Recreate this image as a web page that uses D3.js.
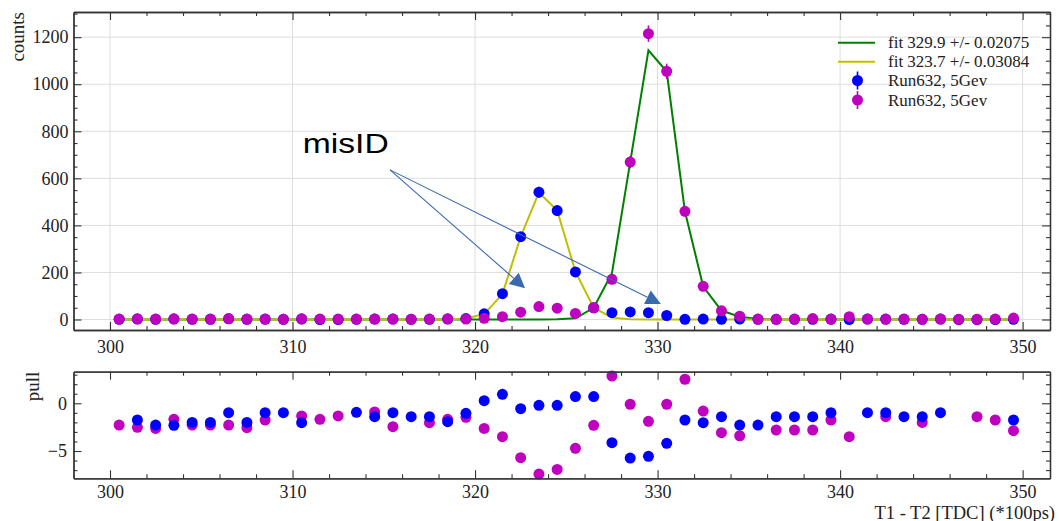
<!DOCTYPE html>
<html>
<head>
<meta charset="utf-8">
<script src="https://cdn.jsdelivr.net/npm/d3@7"></script>
<style>
    body { margin: 0; background: #fff; }
</style>
</head>
<body>
<div id="chart"></div>
<script>
// bin centres of the TDC difference histogram
const binCenters = [
    300.5, 301.5, 302.5, 303.5, 304.5, 305.5, 306.5, 307.5, 308.5, 309.5,
    310.5, 311.5, 312.5, 313.5, 314.5, 315.5, 316.5, 317.5, 318.5, 319.5,
    320.5, 321.5, 322.5, 323.5, 324.5, 325.5, 326.5, 327.5, 328.5, 329.5,
    330.5, 331.5, 332.5, 333.5, 334.5, 335.5, 336.5, 337.5, 338.5, 339.5,
    340.5, 341.5, 342.5, 343.5, 344.5, 345.5, 346.5, 347.5, 348.5, 349.5
];
const blueCounts = [
    1, 2, 1, 2, 1, 1, 3, 1, 2, 1,
    2, 0, 0, 1, 2, 2, 1, 1, 2, 4,
    24, 110, 352, 541, 463, 202, 50, 29, 32, 29,
    17, 1, 2, 1, 2, 1, 1, 1, 1, 2,
    0, 2, 2, 1, 1, 2, 0, 0, 0, 1
];
const magentaCounts = [
    2, 3, 2, 3, 2, 2, 4, 2, 1, 1,
    3, 2, 2, 2, 2, 2, 1, 2, 3, 2,
    5, 12, 31, 55, 48, 26, 50, 171, 669, 1215,
    1055, 460, 141, 37, 14, 2, 1, 2, 4, 1,
    12, 2, 1, 2, 1, 2, 1, 1, 2, 6
];
const greenFit = [
    0, 0, 0, 0, 0, 0, 0, 0, 0, 0,
    0, 0, 0, 0, 0, 0, 0, 0, 0, 0,
    0, 0, 0, 0, 1, 5, 50, 197, 669, 1144,
    1054, 459, 140, 38, 12, 2, 0, 0, 0, 0,
    0, 0, 0, 0, 0, 0, 0, 0, 0, 0
];
const yellowFit = [
    0, 0, 0, 0, 0, 0, 0, 0, 0, 0,
    0, 0, 0, 0, 0, 0, 0, 0, 0, 4,
    23, 108, 352, 540, 463, 203, 50, 8, 1, 0,
    0, 0, 0, 0, 0, 0, 0, 0, 0, 0,
    0, 0, 0, 0, 0, 0, 0, 0, 0, 0
];
const bluePull = [
    null, -1.75, -2.28, -2.31, -2.0, -2.0, -0.98, -2.0, -0.98, -0.98,
    -2.03, null, null, -0.95, -1.4, -0.98, -1.4, -1.4, -1.93, -1.05,
    0.27, 0.94, -0.56, -0.21, -0.21, 0.7, 0.7, -4.13, -5.74, -5.56,
    -4.2, -1.75, -2.03, -1.4, -2.28, -2.28, -1.4, -1.4, -1.4, -0.98,
    null, -0.98, -0.98, -1.4, -1.4, -0.98, null, null, null, -1.75
];
const magentaPull = [
    -2.28, -2.52, -2.63, -1.68, -2.28, -2.28, -2.28, -2.56, -1.75, null,
    -1.33, -1.68, -1.33, null, -0.9, -2.45, null, -2.03, -1.68, -1.47,
    -2.63, -3.5, -5.7, -7.42, -6.93, -4.72, -2.31, 2.86, -0.1, -1.89,
    -0.1, 2.52, -0.81, -3.08, -3.4, null, -2.8, -2.8, -2.8, -1.75,
    -3.5, null, -1.4, null, -2.0, null, null, -1.4, -1.75, -2.87
];
const xMajorTicks = [300, 310, 320, 330, 340, 350];
const xMinorTicks = [302, 304, 306, 308, 312, 314, 316, 318, 322, 324, 326, 328, 332, 334, 336, 338, 342, 344, 346, 348];
const countTicks = [0, 200, 400, 600, 800, 1000, 1200];
const pullTicks = [-5, 0];
const legendLabels = ['fit 329.9 +/- 0.02075', 'fit 323.7 +/- 0.03084', 'Run632, 5Gev', 'Run632, 5Gev'];

const chartRenderer = (() => {

    const W = 1059, H = 521;
    const SERIF = '"Liberation Serif", "Times New Roman", serif';
    const C = {
        blue: '#0000ff', magenta: '#bf00bf', green: '#008000', yellow: '#bfbf00',
        frame: '#333333', grid: '#dedede', text: '#222222', arrow: '#3a6aad'
    };
    const TOP = { left: 73.5, right: 1050, top: 12, bottom: 330 };
    const BOT = { left: 73.5, right: 1050, top: 371.7, bottom: 478.3 };

    const x = d3.scaleLinear().domain([298, 351.5]).range([TOP.left, TOP.right]);
    const yCounts = d3.scaleLinear().domain([-44.6, 1307]).range([TOP.bottom, TOP.top]);
    const yPull = d3.scaleLinear().domain([-7.86, 3.31]).range([BOT.bottom, BOT.top]);
    const fmt = d3.format('d');

    function _styleAxis(sel) {
        sel.selectAll('.domain').attr('stroke', C.frame).attr('stroke-width', 1.3);
        sel.selectAll('.tick line').attr('stroke', C.frame).attr('stroke-width', 1.1);
        sel.selectAll('.tick text')
            .style('font-family', SERIF).style('font-size', '18px').attr('fill', C.text);
    }

    function _drawFrame(svg, box, ys, yMajor, yMinor, xPad, yPad) {
        const add = (axis, tx, ty) => svg.append('g')
            .attr('transform', `translate(${tx},${ty})`)
            .call(axis).call(_styleAxis);

        add(d3.axisBottom(x).tickValues(xMajorTicks).tickFormat(fmt).tickSizeInner(-8).tickSizeOuter(0).tickPadding(xPad), 0, box.bottom);
        add(d3.axisBottom(x).tickValues(xMinorTicks).tickSizeInner(-4).tickSizeOuter(0).tickFormat(''), 0, box.bottom);
        add(d3.axisTop(x).tickValues(xMajorTicks).tickSizeInner(-8).tickSizeOuter(0).tickFormat(''), 0, box.top);
        add(d3.axisTop(x).tickValues(xMinorTicks).tickSizeInner(-4).tickSizeOuter(0).tickFormat(''), 0, box.top);
        add(d3.axisLeft(ys).tickValues(yMajor).tickFormat(fmt).tickSizeInner(-8).tickSizeOuter(0).tickPadding(yPad), box.left, 0);
        add(d3.axisLeft(ys).tickValues(yMinor).tickSizeInner(-4).tickSizeOuter(0).tickFormat(''), box.left, 0);
        add(d3.axisRight(ys).tickValues(yMajor).tickSizeInner(-8).tickSizeOuter(0).tickFormat(''), box.right, 0);
        add(d3.axisRight(ys).tickValues(yMinor).tickSizeInner(-4).tickSizeOuter(0).tickFormat(''), box.right, 0);
    }

    function _axisLabel(svg, text, tx, ty, rotate, size) {
        svg.append('text')
            .attr('transform', `translate(${tx},${ty})${rotate ? ' rotate(-90)' : ''}`)
            .attr('text-anchor', 'end')
            .style('font-family', SERIF).style('font-size', size + 'px')
            .attr('fill', C.text)
            .text(text);
    }

    function renderTopPanel(svg) {
        const g = svg.append('g');

        g.selectAll('.vgrid').data(xMajorTicks).join('line')
            .attr('x1', d => x(d)).attr('x2', d => x(d))
            .attr('y1', TOP.top).attr('y2', TOP.bottom)
            .attr('stroke', C.grid).attr('stroke-width', 1);
        g.selectAll('.hgrid').data(countTicks).join('line')
            .attr('x1', TOP.left).attr('x2', TOP.right)
            .attr('y1', d => yCounts(d)).attr('y2', d => yCounts(d))
            .attr('stroke', C.grid).attr('stroke-width', 1);

        const line = d3.line().x((d, i) => x(binCenters[i])).y(d => yCounts(d));
        g.append('path').attr('d', line(greenFit))
            .attr('fill', 'none').attr('stroke', C.green).attr('stroke-width', 2);
        g.append('path').attr('d', line(yellowFit))
            .attr('fill', 'none').attr('stroke', C.yellow).attr('stroke-width', 2);

        [[blueCounts, C.blue], [magentaCounts, C.magenta]].forEach(([vals, col]) => {
            const pts = vals.map((v, i) => ({ x: binCenters[i], v }));
            g.append('g').selectAll('line').data(pts).join('line')
                .attr('x1', d => x(d.x)).attr('x2', d => x(d.x))
                .attr('y1', d => yCounts(d.v - Math.sqrt(d.v)))
                .attr('y2', d => yCounts(d.v + Math.sqrt(d.v)))
                .attr('stroke', col).attr('stroke-width', 1.6);
            g.append('g').selectAll('circle').data(pts).join('circle')
                .attr('cx', d => x(d.x)).attr('cy', d => yCounts(d.v))
                .attr('r', 5.5).attr('fill', col);
        });

        _drawFrame(svg, TOP, yCounts, countTicks, d3.range(50, 1301, 50).filter(v => v % 200 !== 0), 10.5, 5);
        _axisLabel(svg, 'counts', 24, TOP.top, true, 19);

        // legend
        const lg = svg.append('g');
        const rows = [42.7, 61.7, 80.5, 100];
        const styles = [
            { col: C.green, type: 'line' }, { col: C.yellow, type: 'line' },
            { col: C.blue, type: 'dot' }, { col: C.magenta, type: 'dot' }
        ];
        legendLabels.forEach((label, i) => {
            const s = styles[i], yy = rows[i];
            if (s.type === 'line') {
                lg.append('line').attr('x1', 838).attr('x2', 875).attr('y1', yy).attr('y2', yy)
                    .attr('stroke', s.col).attr('stroke-width', 2);
            } else {
                lg.append('line').attr('x1', 857.5).attr('x2', 857.5).attr('y1', yy - 9).attr('y2', yy + 9)
                    .attr('stroke', s.col).attr('stroke-width', 1.6);
                lg.append('circle').attr('cx', 857.5).attr('cy', yy).attr('r', 5.5).attr('fill', s.col);
            }
            lg.append('text').attr('x', 888).attr('y', yy + 5.5)
                .style('font-family', SERIF).style('font-size', '17px').attr('fill', C.text)
                .text(label);
        });

        // misID annotation (data coordinates)
        const from = [315.34, 636];
        const tips = [[322.74, 133], [330.18, 66]];
        tips.forEach(t => {
            const x0 = x(from[0]), y0 = yCounts(from[1]), x1 = x(t[0]), y1 = yCounts(t[1]);
            const ang = Math.atan2(y1 - y0, x1 - x0);
            const len = 15, hw = 7.5;
            const bx = x1 - len * Math.cos(ang), by = y1 - len * Math.sin(ang);
            svg.append('line').attr('x1', x0).attr('y1', y0).attr('x2', bx).attr('y2', by)
                .attr('stroke', C.arrow).attr('stroke-width', 1.1);
            const px = -Math.sin(ang) * hw, py = Math.cos(ang) * hw;
            svg.append('polygon')
                .attr('points', `${x1},${y1} ${bx + px},${by + py} ${bx - px},${by - py}`)
                .attr('fill', C.arrow);
        });
        svg.append('text')
            .attr('x', x(310.56)).attr('y', yCounts(709))
            .attr('textLength', 86).attr('lengthAdjust', 'spacingAndGlyphs')
            .style('font-family', '"Liberation Sans", Arial, sans-serif').style('font-size', '28px')
            .attr('fill', '#000')
            .text('misID');
    }

    function renderPullPanel(svg) {
        const g = svg.append('g');
        [[magentaPull, C.magenta], [bluePull, C.blue]].forEach(([vals, col]) => {
            const pts = vals.map((v, i) => ({ x: binCenters[i], v })).filter(d => d.v !== null);
            g.append('g').selectAll('circle').data(pts).join('circle')
                .attr('cx', d => x(d.x)).attr('cy', d => yPull(d.v))
                .attr('r', 5.5).attr('fill', col);
        });
        _drawFrame(svg, BOT, yPull, pullTicks, [-7, -6, -4, -3, -2, -1, 1, 2, 3], 7, 6.5);
        _axisLabel(svg, 'pull', 39, BOT.top, true, 19);
        _axisLabel(svg, 'T1 - T2 [TDC] (*100ps)', 1055, 518.5, false, 18.5);
    }

    function render(containerId) {
        d3.select(containerId).html('');
        const svg = d3.select(containerId).append('svg')
            .attr('width', W).attr('height', H)
            .style('display', 'block');
        renderTopPanel(svg);
        renderPullPanel(svg);
    }

    return Object.freeze({ render });
})();

chartRenderer.render('#chart');
</script>
</body>
</html>
